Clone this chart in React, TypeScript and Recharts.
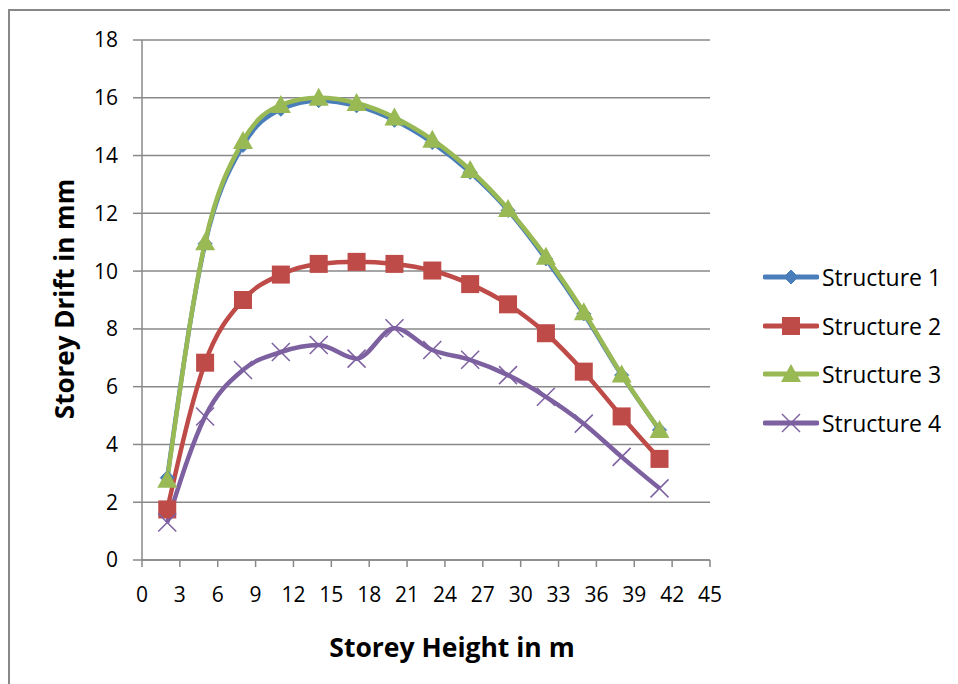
import React from "react";
import {
  LineChart,
  Line,
  XAxis,
  YAxis,
  CartesianGrid,
  Legend,
} from "recharts";

// storey heights (m)
const heights = [2, 5, 8, 11, 14, 17, 20, 23, 26, 29, 32, 35, 38, 41];

// storey drift (mm)
const structure1 = [2.85, 10.95, 14.35, 15.6, 15.9, 15.72, 15.22, 14.45, 13.42, 12.1, 10.42, 8.52, 6.4, 4.5];
const structure2 = [1.75, 6.83, 9.0, 9.88, 10.25, 10.32, 10.25, 10.02, 9.55, 8.85, 7.85, 6.52, 4.97, 3.5];
const structure3 = [2.78, 11.0, 14.5, 15.75, 16.0, 15.82, 15.32, 14.55, 13.5, 12.15, 10.5, 8.58, 6.42, 4.5];
const structure4 = [1.3, 4.97, 6.58, 7.2, 7.44, 6.97, 8.02, 7.27, 6.93, 6.4, 5.65, 4.72, 3.57, 2.48];

const xTicks = [0, 3, 6, 9, 12, 15, 18, 21, 24, 27, 30, 33, 36, 39, 42, 45];
const yTicks = [0, 2, 4, 6, 8, 10, 12, 14, 16, 18];

const seriesNames = ["Structure 1", "Structure 2", "Structure 3", "Structure 4"];
const seriesColors = ["#4A7EBB", "#BE4B48", "#98B954", "#7D60A0"];
const seriesKeys = ["s1", "s2", "s3", "s4"];
const seriesShapes = ["diamond", "square", "triangle", "cross"];

const data = heights.map((h, i) => ({
  h,
  s1: structure1[i],
  s2: structure2[i],
  s3: structure3[i],
  s4: structure4[i],
}));

const FONT = "'Open Sans', sans-serif";
const GRID = "#888888";

function Marker({ shape, cx, cy, color }: { shape: string; cx: number; cy: number; color: string }) {
  if (shape === "diamond") {
    const r = 7;
    return <polygon points={`${cx},${cy - r} ${cx + r},${cy} ${cx},${cy + r} ${cx - r},${cy}`} fill={color} stroke={color} strokeWidth={1} />;
  }
  if (shape === "square") {
    const r = 9;
    return <rect x={cx - r} y={cy - r} width={2 * r} height={2 * r} fill={color} />;
  }
  if (shape === "triangle") {
    return <polygon points={`${cx},${cy - 10} ${cx + 10},${cy + 8} ${cx - 10},${cy + 8}`} fill={color} />;
  }
  const r = 9;
  return (
    <g stroke={color} strokeWidth={1.5}>
      <line x1={cx - r} y1={cy - r} x2={cx + r} y2={cy + r} />
      <line x1={cx - r} y1={cy + r} x2={cx + r} y2={cy - r} />
    </g>
  );
}

const makeDot = (shape: string, color: string) => (props: any) => {
  const { cx, cy, index } = props;
  if (cx == null || cy == null) return <g key={index} />;
  return (
    <g key={index}>
      <Marker shape={shape} cx={cx} cy={cy} color={color} />
    </g>
  );
};

const renderLegend = () => (
  <div style={{ fontFamily: FONT, fontSize: 23, color: "#000" }}>
    {seriesNames.map((name, i) => (
      <div key={name} style={{ height: 48.5, display: "flex", alignItems: "center" }}>
        <svg width={56} height={24} style={{ display: "block" }}>
          <line x1={2} y1={12} x2={54} y2={12} stroke={seriesColors[i]} strokeWidth={5} strokeLinecap="round" />
          <Marker shape={seriesShapes[i]} cx={28} cy={12} color={seriesColors[i]} />
        </svg>
        <span style={{ marginLeft: 3, whiteSpace: "nowrap" }}>{name}</span>
      </div>
    ))}
  </div>
);

export default function App() {
  return (
    <div style={{ position: "relative", width: 950, height: 676 }}>
      <div
        style={{
          position: "absolute",
          left: 0,
          top: 1,
          right: 0,
          bottom: 0,
          borderLeft: `2px solid ${GRID}`,
          borderTop: `2px solid ${GRID}`,
        }}
      />
      <LineChart
        width={950}
        height={676}
        data={data}
        margin={{ top: 32, right: 248, bottom: 34, left: 0 }}
        style={{ fontFamily: FONT }}
      >
        <CartesianGrid horizontal vertical={false} stroke={GRID} strokeWidth={1.5} />
        <XAxis
          type="number"
          dataKey="h"
          domain={[0, 45]}
          ticks={xTicks}
          interval={0}
          height={90}
          tickSize={7}
          tickMargin={20}
          axisLine={{ stroke: GRID, strokeWidth: 1.5 }}
          tickLine={{ stroke: GRID, strokeWidth: 1.5 }}
          tick={{ fill: "#000", fontSize: 21, fontFamily: FONT }}
          label={{
            content: () => (
              <text x={444} y={649} textAnchor="middle" fontFamily={FONT} fontWeight="bold" fontSize={26.5} fill="#000">
                Storey Height in m
              </text>
            ),
          }}
        />
        <YAxis
          type="number"
          domain={[0, 18]}
          ticks={yTicks}
          interval={0}
          width={134}
          tickSize={9}
          tickMargin={15}
          axisLine={{ stroke: GRID, strokeWidth: 1.5 }}
          tickLine={{ stroke: GRID, strokeWidth: 1.5 }}
          tick={{ fill: "#000", fontSize: 21, fontFamily: FONT }}
          label={{
            content: () => (
              <text
                x={56}
                y={291}
                transform="rotate(-90 56 291)"
                textAnchor="middle"
                dominantBaseline="central"
                fontFamily={FONT}
                fontWeight="bold"
                fontSize={26}
                fill="#000"
              >
                Storey Drift in mm
              </text>
            ),
          }}
        />
        <Legend
          layout="vertical"
          align="center"
          verticalAlign="middle"
          content={renderLegend}
          wrapperStyle={{ left: 755, top: 245, width: 195, height: 194 }}
        />
        {seriesKeys.map((k, i) => (
          <Line
            key={k}
            type="monotone"
            dataKey={k}
            name={seriesNames[i]}
            stroke={seriesColors[i]}
            strokeWidth={4.5}
            dot={makeDot(seriesShapes[i], seriesColors[i])}
            activeDot={false}
            isAnimationActive={false}
          />
        ))}
      </LineChart>
    </div>
  );
}
